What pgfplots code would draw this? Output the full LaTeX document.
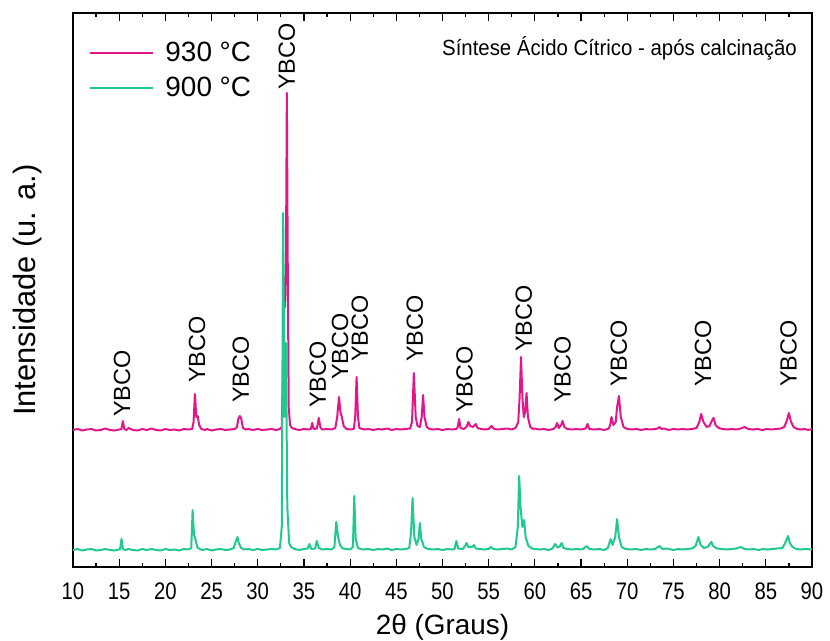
\documentclass[border=0pt]{standalone}
\usepackage{pgfplots}
\pgfplotsset{compat=1.18}
\usepackage{fontspec}
\setmainfont{Liberation Sans}
\newfontfamily\tickfont{Liberation Sans}[FakeStretch=0.85]
\newfontfamily\titlefont{Liberation Sans}[FakeStretch=0.93]
\definecolor{mag}{RGB}{228,21,137}
\definecolor{tea}{RGB}{32,201,143}
\begin{document}
\begin{tikzpicture}
\useasboundingbox (-73bp,-74bp) rectangle (757bp,567bp);
\begin{axis}[
  at={(0,0)}, anchor=south west,
  scale only axis, width=739bp, height=554bp,
  xmin=10, xmax=90, ymin=0, ymax=554,
  xtick={10,15,...,90}, minor x tick num=1,
  ytick=\empty,
  tick align=inside,
  major tick length=8bp, minor tick length=4.5bp,
  every tick/.style={black, line width=1.2bp},
  axis line style={line width=1.6bp},
  /pgf/number format/assume math mode=true,
  xticklabel style={font=\tickfont\fontsize{24}{24}\selectfont, anchor=center, yshift=-24bp},
  xlabel={2θ (Graus)},
  ylabel={Intensidade (u. a.)},
  every axis x label/.style={at={(axis description cs:0.5,-0.108)}, anchor=center, font=\fontsize{28}{30}\selectfont},
  every axis y label/.style={at={(axis description cs:-0.062,0.5)}, anchor=center, rotate=90, font=\fontsize{31}{33}\selectfont},
  clip=false,
  legend style={at={(axis description cs:0.018,0.955)}, anchor=north west, draw=none, fill=none,
    font=\fontsize{28}{30}\selectfont, row sep=10bp,
    /tikz/every odd column/.append style={column sep=9bp}},
  legend cell align=left,
  legend image code/.code={\draw[#1] (0bp,0bp) -- (63bp,0bp);},
  every axis plot/.append style={line width=2bp, line join=round},
]
\addplot[mag] coordinates {
(10,137) (10.5,138) (11,136.5) (11.5,137.5) (12,138) (12.5,136.5) (13,137) (13.5,138.5) (14,137) (14.5,136.5) (15,137.5) (15.25,138) (15.4,146) (15.55,138) (15.8,137) (16,139) (16.5,137) (17,136.5) (17.5,138) (18,137) (18.5,138.5) (19,137) (19.5,136.5) (20,138) (20.5,137) (21,137.5) (21.5,136.5) (22,138) (22.5,137.5) (22.9,138) (23.05,145) (23.2,173) (23.35,150) (23.5,151) (23.65,142) (23.9,138) (24.3,137) (24.5,138) (25,136.5) (25.5,137.5) (26,138) (26.5,137) (27,137.5) (27.5,138) (27.75,140) (27.9,148) (28.05,151) (28.2,149) (28.4,139) (28.7,137.5) (29,138) (29.5,137) (30,138) (30.5,137) (31,137.5) (31.5,138) (32,137) (32.4,138) (32.6,140) (32.75,200) (32.85,290) (32.95,260) (33.05,300) (33.15,474) (33.25,300) (33.35,160) (33.5,142) (33.7,139) (34,138) (34.5,137) (35,138) (35.5,137.5) (35.75,138) (35.9,144) (36.05,138) (36.4,138.5) (36.6,149) (36.8,139) (37,137.5) (37.5,138) (38,137.5) (38.4,139) (38.6,150) (38.8,170) (38.95,155) (39.1,150) (39.3,141) (39.6,138) (40,137.5) (40.4,138) (40.55,150) (40.7,190) (40.85,150) (41,139) (41.5,137.5) (42,138) (42.5,137) (43,138) (43.5,137.5) (44,138.5) (44.5,137) (45,138) (45.5,137.5) (46,138) (46.5,138.5) (46.7,145) (46.9,194) (47.1,150) (47.3,141) (47.55,140) (47.75,150) (47.9,172) (48.05,150) (48.3,140) (48.6,138) (49,137.5) (49.5,138) (50,137) (50.5,138) (51,137.5) (51.5,138) (51.65,140) (51.8,148) (51.95,139) (52.3,138) (52.6,140) (52.8,145) (53,141) (53.3,140) (53.6,143) (53.8,139) (54.2,138) (54.6,137.5) (55,138) (55.3,141) (55.6,138) (56,137.5) (56.5,138) (57,138.5) (57.5,137.5) (57.9,139) (58.2,145) (58.35,170) (58.5,210) (58.65,170) (58.8,150) (58.95,155) (59.1,174) (59.25,150) (59.5,140) (59.8,138) (60,138.5) (60.5,137.5) (61,138) (61.5,137) (62,138) (62.25,140) (62.4,144) (62.6,139) (62.85,142) (63,146) (63.2,140) (63.5,138) (64,137.5) (64.5,138) (65,137.5) (65.5,138.5) (65.7,143) (65.9,138) (66.5,137.5) (67,138) (67.5,137) (68,138.5) (68.15,142) (68.3,150) (68.5,142) (68.75,145) (68.9,160) (69.1,171) (69.3,150) (69.6,140) (70,138) (70.5,137.5) (71,138) (71.5,137) (72,138) (72.5,137.5) (73,138) (73.3,138.5) (73.5,140) (73.7,138) (74,138.5) (74.5,137) (75,138) (75.5,137.5) (76,138) (76.5,137.5) (77,138) (77.5,139) (77.8,145) (78,153) (78.25,145) (78.6,140) (78.9,141) (79.2,147) (79.35,149) (79.55,142) (79.9,139) (80.3,138) (80.8,137.5) (81.3,138) (81.8,137.5) (82.3,138.5) (82.7,140) (83.1,138) (83.6,137.5) (84.1,138) (84.6,137) (85.1,138) (85.6,137.5) (86.1,138) (86.6,138.5) (87,140) (87.3,147) (87.5,154) (87.7,146) (88,140) (88.4,138) (88.8,137.5) (89.2,138) (89.6,137) (90,138)
};
\addlegendentry{930 °C}
\addplot[tea] coordinates {
(10,17) (10.5,18) (11,16.5) (11.5,17.5) (12,18) (12.5,16.5) (13,17) (13.5,18) (14,17) (14.5,16.5) (15,17.5) (15.1,18) (15.25,28) (15.4,18) (15.7,17) (16,18) (16.5,17) (17,16.5) (17.5,18) (18,17) (18.5,18) (19,17) (19.5,16.5) (20,18) (20.5,17) (21,17.5) (21.5,16.5) (22,18) (22.5,17.5) (22.8,19) (22.95,57) (23.1,32) (23.25,28) (23.45,20) (23.7,18) (24,17) (24.5,18) (25,16.5) (25.5,17.5) (26,18) (26.5,17) (27,17.5) (27.4,19) (27.6,25) (27.8,30) (27.95,24) (28.2,19) (28.5,17.5) (29,18) (29.5,17) (30,18) (30.5,17) (31,17.5) (31.5,18) (32,17.5) (32.4,19) (32.6,40) (32.75,354) (32.9,150) (33.05,224) (33.2,60) (33.4,24) (33.6,20) (34,18) (34.5,17) (35,18) (35.4,18.5) (35.6,23) (35.8,18) (36.2,18.5) (36.4,26) (36.6,19) (37,17.5) (37.5,18) (38,17.5) (38.3,20) (38.5,45) (38.7,30) (38.9,22) (39.2,18.5) (39.6,18) (40,17.5) (40.3,20) (40.45,71) (40.6,28) (40.85,19) (41.3,17.5) (42,18) (42.5,17) (43,18) (43.5,17.5) (44,18.5) (44.5,17) (45,18) (45.5,17.5) (46,18) (46.4,19) (46.6,35) (46.76,69) (46.95,30) (47.2,22) (47.4,28) (47.55,44) (47.7,28) (48,20) (48.4,18) (49,17.5) (49.5,18) (50,17) (50.5,18) (51,17.5) (51.3,18) (51.5,26) (51.7,18.5) (52.2,18) (52.45,21) (52.6,24) (52.8,20) (53.2,20) (53.4,22) (53.6,18.5) (54,18) (54.5,17.5) (55,18) (55.2,20) (55.5,18) (56,17.5) (56.5,18) (57,18.5) (57.5,17.5) (57.9,20) (58.15,40) (58.3,91) (58.45,60) (58.65,40) (58.84,47) (59,30) (59.3,21) (59.7,18.5) (60,18) (60.5,17.5) (61,18) (61.5,17) (61.9,18.5) (62.2,23) (62.45,19.5) (62.7,20.5) (62.9,24) (63.1,19) (63.5,18) (64,17.5) (64.5,18) (65,17.5) (65.3,18.5) (65.6,21) (65.9,18) (66.5,17.5) (67,18) (67.5,17) (67.9,19) (68.2,28) (68.4,22) (68.7,30) (68.9,48) (69.1,30) (69.4,20) (69.8,18) (70.3,17.5) (71,18) (71.5,17) (72,18) (72.5,17.5) (73,18) (73.5,21) (73.8,18) (74.3,18.5) (75,17) (75.5,18) (76,17.5) (76.5,18) (77,18.5) (77.4,21) (77.7,30) (77.95,22) (78.3,19) (78.7,20) (79.1,25) (79.3,21) (79.7,18.5) (80.2,18) (80.8,17.5) (81.3,18) (81.8,18.5) (82.3,20) (82.7,18) (83.2,17.5) (83.7,18) (84.2,17) (84.7,18) (85.2,17.5) (85.7,18) (86.2,18.5) (86.8,19) (87.1,24) (87.4,31) (87.6,24) (87.9,20) (88.3,18) (88.8,17.5) (89.3,18) (90,17.5)
};
\addlegendentry{900 °C}
\node[anchor=east, inner sep=0pt, font=\titlefont\fontsize{22}{24}\selectfont] at (axis description cs:0.9797,0.937) {Síntese Ácido Cítrico - após calcinação};
\begin{scope}[every node/.style={rotate=90, anchor=west, inner sep=0pt, font=\fontsize{23.5}{23.5}\selectfont}]
\node at (axis cs:15.3,150) {YBCO};
\node at (axis cs:23.42,184) {YBCO};
\node at (axis cs:28.18,164) {YBCO};
\node at (axis cs:33.16,477) {YBCO};
\node at (axis cs:36.5,159) {YBCO};
\node at (axis cs:38.9,187) {YBCO};
\node at (axis cs:41.06,205) {YBCO};
\node at (axis cs:47.0,205) {YBCO};
\node at (axis cs:52.4,154) {YBCO};
\node at (axis cs:58.8,215) {YBCO};
\node at (axis cs:63.0,164) {YBCO};
\node at (axis cs:69.1,180) {YBCO};
\node at (axis cs:78.2,180) {YBCO};
\node at (axis cs:87.45,180) {YBCO};
\end{scope}
\end{axis}
\end{tikzpicture}
\end{document}
